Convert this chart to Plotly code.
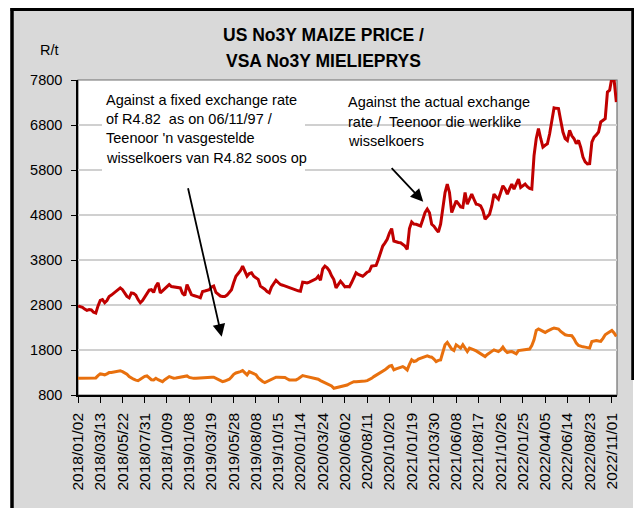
import plotly.graph_objects as go

tick_labels = ["2018/01/02", "2018/03/13", "2018/05/22", "2018/07/31", "2018/10/09",
               "2019/01/08", "2019/03/19", "2019/05/28", "2019/08/08", "2019/10/15",
               "2020/01/14", "2020/03/24", "2020/06/02", "2020/08/11", "2020/10/20",
               "2021/01/19", "2021/03/30", "2021/06/08", "2021/08/17", "2021/10/26",
               "2022/01/25", "2022/04/05", "2022/06/14", "2022/08/23", "2022/11/01"]

actual_rate = [
    2780, 2760, 2750, 2710, 2680, 2700, 2690, 2640, 2620, 2780,
    2900, 2920, 2850, 2900, 2990, 3020, 3060, 3110, 3150, 3180,
    3140, 3060, 2990, 2960, 3070, 3060, 3020, 2920, 2850, 2900,
    2980, 3050, 3130, 3140, 3080, 3220, 3290, 3070, 3120, 3150,
    3200, 3255, 3210, 3200, 3190, 3185, 3180, 3060, 3010, 3255,
    3120, 3030, 3010, 3000, 2980, 2960, 3100, 3110, 3130, 3140,
    3200, 3220, 3080, 3030, 3000, 2990, 2990, 3020, 3080, 3140,
    3300, 3440, 3500, 3560, 3664, 3560, 3440, 3500, 3516, 3440,
    3400, 3370, 3220, 3190, 3150, 3100, 3070, 3200, 3280, 3350,
    3300, 3255, 3240, 3220, 3204, 3190, 3170, 3144, 3130, 3115,
    3106, 3307, 3300, 3290, 3307, 3330, 3360, 3380, 3440, 3350,
    3600, 3664, 3627, 3560, 3450, 3367, 3182, 3260, 3330, 3270,
    3204, 3210, 3204, 3300, 3420, 3516, 3480, 3460, 3440, 3480,
    3530, 3552, 3664, 3670, 3680, 3813, 3950, 4110, 4180, 4260,
    4400, 4498, 4222, 4200, 4190, 4185, 4140, 4110, 4036, 4500,
    4646, 4600, 4594, 4570, 4556, 4700, 4855, 4930, 4850, 4594,
    4550, 4480, 4423, 4594, 4900, 5300, 5487, 5301, 4855, 5000,
    5114, 5050, 4980, 4967, 5301, 5040, 5150, 5264, 5150, 5040,
    5030, 5003, 4900, 4706, 4760, 4817, 5000, 5264, 5200, 5152,
    5300, 5450, 5380, 5264, 5380, 5487, 5375, 5500, 5598, 5412,
    5450, 5487, 5430, 5390, 5375, 6119, 6500, 6718, 6500, 6310,
    6350, 6383, 6600, 6868, 7181, 7170, 7166, 6900, 6644, 6500,
    6458, 6681, 6560, 6495, 6383, 6458, 6300, 6086, 5980, 5934,
    5940, 6420, 6532, 6580, 6644, 6868, 6900, 6942, 7534, 7572,
    7850, 7800, 7311]

fixed_rate = [
    1173, 1173, 1175, 1173, 1170, 1173, 1175, 1173, 1180, 1230,
    1269, 1260, 1246, 1270, 1298, 1300, 1310, 1320, 1330, 1336,
    1320, 1298, 1260, 1210, 1173, 1150, 1130, 1119, 1150, 1190,
    1215, 1224, 1180, 1140, 1135, 1173, 1140, 1110, 1097, 1140,
    1180, 1209, 1190, 1173, 1180, 1190, 1195, 1195, 1210, 1224,
    1190, 1173, 1170, 1175, 1180, 1180, 1185, 1190, 1195, 1195,
    1195, 1195, 1170, 1140, 1110, 1097, 1110, 1130, 1150, 1200,
    1260, 1290, 1300, 1320, 1342, 1300, 1246, 1320, 1300, 1284,
    1250, 1180, 1135, 1100, 1075, 1100, 1135, 1160, 1180, 1195,
    1195, 1195, 1195, 1190, 1160, 1135, 1135, 1135, 1135, 1160,
    1200, 1231, 1220, 1210, 1195, 1185, 1180, 1173, 1150, 1120,
    1097, 1080, 1060, 1039, 1000, 950, 960, 975, 985, 1000,
    1015, 1023, 1050, 1075, 1097, 1097, 1097, 1097, 1105, 1110,
    1119, 1140, 1170, 1209, 1240, 1265, 1284, 1320, 1358, 1400,
    1440, 1454, 1358, 1380, 1395, 1410, 1432, 1400, 1358, 1480,
    1581, 1544, 1560, 1600, 1619, 1640, 1660, 1671, 1650, 1641,
    1600, 1543, 1570, 1581, 1750, 1916, 1967, 1900, 1820, 1788,
    1916, 1880, 1842, 1916, 1830, 1766, 1842, 1830, 1804, 1780,
    1750, 1730, 1700, 1655, 1700, 1744, 1770, 1804, 1790, 1766,
    1800, 1864, 1790, 1744, 1760, 1766, 1740, 1715, 1788, 1795,
    1804, 1810, 1815, 1820, 1900, 2028, 2235, 2266, 2240, 2210,
    2190, 2220, 2250, 2270, 2288, 2280, 2266, 2213, 2180, 2139,
    2130, 2125, 2117, 2050, 1954, 1900, 1878, 1870, 1864, 1855,
    1842, 1990, 2000, 2012, 2000, 1990, 2060, 2139, 2170, 2213,
    2235, 2180, 2101]

y_ticks = [800, 1800, 2800, 3800, 4800, 5800, 6800, 7800]

# page has an 8px body margin, so the figure is laid out 8px smaller
OFF = 8
W, H = 642 - OFF, 508 - OFF
L, R, T, B = 78 - OFF, 25, 80 - OFF, 113
PW, PH = W - L - R, H - T - B


def px(x):  # page x pixel -> paper
    return (x - OFF - L) / PW


def py(y):  # page y pixel -> paper
    return (T + PH - (y - OFF)) / PH


FONT = "Liberation Sans, Arial, sans-serif"

idx = list(range(len(actual_rate)))

fig = go.Figure()
fig.add_trace(go.Scatter(x=idx, y=fixed_rate, mode="lines",
                         line=dict(color="#e8700e", width=3), showlegend=False))
fig.add_trace(go.Scatter(x=idx, y=actual_rate, mode="lines",
                         line=dict(color="#c00000", width=3), showlegend=False))

shapes = [
    dict(type="rect", xref="paper", yref="paper", x0=px(12), x1=px(633), y0=py(530), y1=py(9),
         fillcolor="#d9d9d9", line=dict(width=0), layer="below"),
    dict(type="line", xref="paper", yref="paper", x0=px(12), x1=px(12), y0=py(530), y1=py(8),
         line=dict(color="black", width=3.5), layer="below"),
    dict(type="line", xref="paper", yref="paper", x0=px(10.5), x1=px(634.5), y0=py(9.2), y1=py(9.2),
         line=dict(color="black", width=3.5), layer="below"),
    dict(type="line", xref="paper", yref="paper", x0=px(633), x1=px(633), y0=py(380), y1=py(8),
         line=dict(color="black", width=3.5), layer="below"),
    dict(type="rect", xref="paper", yref="paper", x0=0, x1=1, y0=0, y1=1,
         fillcolor="white", line=dict(color="#6f6f6f", width=1.2), layer="below"),
    dict(type="rect", xref="paper", yref="paper", x0=px(102), x1=px(305), y0=py(176), y1=py(86),
         fillcolor="white", line=dict(width=0), layer="above"),
]

ann = []
ann.append(dict(text="<b>US No3Y MAIZE PRICE /</b>", x=px(323), y=py(35), xref="paper", yref="paper",
                showarrow=False, xanchor="center", yanchor="middle",
                font=dict(family=FONT, size=17.5, color="black")))
ann.append(dict(text="<b>VSA No3Y MIELIEPRYS</b>", x=px(323), y=py(61), xref="paper", yref="paper",
                showarrow=False, xanchor="center", yanchor="middle",
                font=dict(family=FONT, size=17.5, color="black")))
ann.append(dict(text="R/t", x=px(49), y=py(50), xref="paper", yref="paper",
                showarrow=False, xanchor="center", yanchor="middle",
                font=dict(family=FONT, size=14.5, color="black")))

left_note = ["Against a fixed exchange rate", "of R4.82 \u00a0as on 06/11/97 /",
             "Teenoor 'n vasgestelde", "wisselkoers van R4.82 soos op"]
for text, yc in zip(left_note, [100, 119.3, 138.3, 157.7]):
    ann.append(dict(text=text, x=px(104), y=py(yc), xref="paper", yref="paper",
                    showarrow=False, xanchor="left", yanchor="middle",
                    font=dict(family=FONT, size=14.5, color="black")))

right_note = ["Against the actual exchange", "rate / \u00a0Teenoor die werklike", "wisselkoers"]
for text, yc in zip(right_note, [102, 122, 141]):
    ann.append(dict(text=text, x=px(346), y=py(yc), xref="paper", yref="paper",
                    showarrow=False, xanchor="left", yanchor="middle",
                    font=dict(family=FONT, size=14.5, color="black")))

ann.append(dict(x=64.6, y=2096, xref="x", yref="y", ax=-34, ay=-150, text="",
                showarrow=True, arrowhead=2, arrowsize=1.4, arrowwidth=1.8, arrowcolor="black"))
ann.append(dict(x=155.2, y=5096, xref="x", yref="y", ax=-33, ay=-35, text="",
                showarrow=True, arrowhead=2, arrowsize=1.4, arrowwidth=1.8, arrowcolor="black"))

fig.update_layout(
    width=W, height=H,
    margin=dict(l=L, r=R, t=T, b=B, pad=0),
    paper_bgcolor="white", plot_bgcolor="white",
    shapes=shapes, annotations=ann, showlegend=False,
    xaxis=dict(range=[0, 242.3], tickmode="array", tickvals=list(range(0, 10 * len(tick_labels), 10)),
               ticktext=tick_labels, tickangle=-90, ticks="outside", ticklen=6, tickwidth=1.2,
               tickcolor="black", showline=True, linecolor="black", linewidth=1.5,
               showgrid=False, zeroline=False, ticklabelstandoff=4,
               tickfont=dict(family=FONT, size=15.5, color="black")),
    yaxis=dict(range=[800, 7800], tickmode="array", tickvals=y_ticks,
               ticks="outside", ticklen=5, tickwidth=1.2, tickcolor="black",
               showline=True, linecolor="black", linewidth=1.5,
               showgrid=True, gridcolor="#d0d0d0", gridwidth=1.5, zeroline=False,
               ticklabelstandoff=6,
               tickfont=dict(family=FONT, size=14.5, color="black")),
)

fig.write_html("out.html")
